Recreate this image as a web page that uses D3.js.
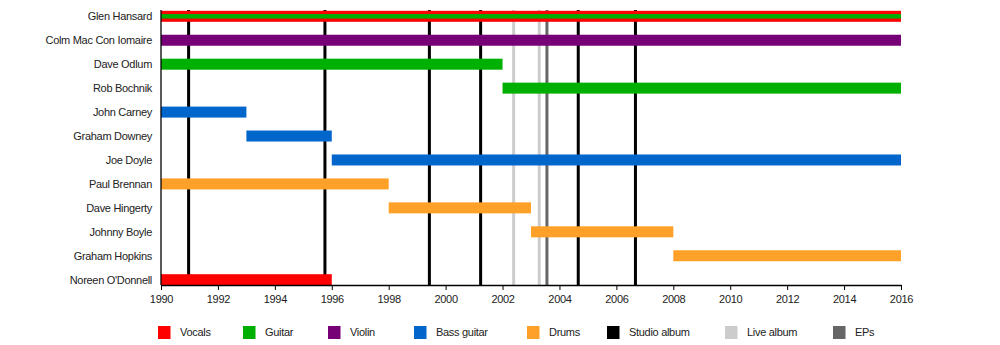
<!DOCTYPE html>
<html><head><meta charset="utf-8">
<script src="https://cdn.jsdelivr.net/npm/d3@7"></script>
<style>body{margin:0;background:#fff}svg{display:block;font-family:"Liberation Sans",Arial,sans-serif}svg text{letter-spacing:-0.3px}</style>
</head><body><svg id="c" width="1000" height="345"></svg>
<script>
const members = ["Glen Hansard","Colm Mac Con Iomaire","Dave Odlum","Rob Bochnik","John Carney","Graham Downey","Joe Doyle","Paul Brennan","Dave Hingerty","Johnny Boyle","Graham Hopkins","Noreen O'Donnell"];
const roles = ["Vocals","Guitar","Violin","Bass guitar","Drums"];
const roleColors = ["#ff0000","#00b000","#770077","#0066cc","#ffa028"];
// [member, role, start, end]
const spans = [
  ["Glen Hansard","Vocals",1990,2016],
  ["Colm Mac Con Iomaire","Violin",1990,2016],
  ["Dave Odlum","Guitar",1990,2002],
  ["Rob Bochnik","Guitar",2002,2016],
  ["John Carney","Bass guitar",1990,1993],
  ["Graham Downey","Bass guitar",1993,1996],
  ["Joe Doyle","Bass guitar",1996,2016],
  ["Paul Brennan","Drums",1990,1998],
  ["Dave Hingerty","Drums",1998,2003],
  ["Johnny Boyle","Drums",2003,2008],
  ["Graham Hopkins","Drums",2008,2016],
  ["Noreen O'Donnell","Vocals",1990,1996]
];
// secondary role stripe
const stripes = [["Glen Hansard","Guitar",1990,2016]];
const eventTypes = ["Studio album","Live album","EPs"];
const eventColors = ["#000000","#cccccc","#666666"];
const studioAlbums = [1990.97,1995.76,1999.43,2001.23,2004.66,2006.67];
const liveAlbums = [2002.39,2003.29];
const eps = [2003.56];
const tickYears = [1990,1992,1994,1996,1998,2000,2002,2004,2006,2008,2010,2012,2014,2016];

const svg = d3.select("#c");
const x = d3.scaleLinear().domain([1990,2016]).range([161,901]);
const y = d3.scalePoint().domain(members).range([16.3,279.7]);
const color = d3.scaleOrdinal().domain(roles.concat(eventTypes)).range(roleColors.concat(eventColors));
const plotTop = 10, plotBottom = 285, barH = 11, stripeH = 4.5;

const events = studioAlbums.map(d=>[d,"Studio album"]).concat(liveAlbums.map(d=>[d,"Live album"]), eps.map(d=>[d,"EPs"]));
svg.append("g").selectAll("line").data(events).join("line")
  .attr("x1",d=>x(d[0])).attr("x2",d=>x(d[0])).attr("y1",plotTop).attr("y2",plotBottom)
  .attr("stroke",d=>color(d[1])).attr("stroke-width",3);

svg.append("g").selectAll("rect").data(spans).join("rect")
  .attr("x",d=>x(d[2])).attr("width",d=>x(d[3])-x(d[2]))
  .attr("y",d=>y(d[0])-barH/2).attr("height",barH).attr("fill",d=>color(d[1]));
svg.append("g").selectAll("rect").data(stripes).join("rect")
  .attr("x",d=>x(d[2])).attr("width",d=>x(d[3])-x(d[2]))
  .attr("y",d=>y(d[0])-stripeH/2).attr("height",stripeH).attr("fill",d=>color(d[1]));

// axes
svg.append("line").attr("x1",x(1990)).attr("x2",x(1990)).attr("y1",plotTop).attr("y2",plotBottom).attr("stroke","#000").attr("stroke-width",1.3);
const ax = svg.append("g").attr("transform",`translate(0,${plotBottom})`)
  .call(d3.axisBottom(x).tickValues(tickYears).tickFormat(d3.format("d")).tickSize(5).tickSizeOuter(0));
ax.select(".domain").attr("stroke","#000").attr("stroke-width",1.3);
ax.selectAll(".tick line").attr("stroke","#000");
ax.selectAll("text").attr("font-size",11).attr("fill","#222").attr("dy","0.9em")
  .attr("font-family",'"Liberation Sans",Arial,sans-serif');

svg.append("g").selectAll("text").data(members).join("text")
  .attr("x",152).attr("y",d=>y(d)).attr("dy","0.35em").attr("text-anchor","end")
  .attr("font-size",11).attr("fill","#222").text(d=>d);

// legend
const legendItems = roles.concat(eventTypes);
const legendX = [158,243,328,414,527,607,725,833];
const lg = svg.append("g").selectAll("g").data(legendItems).join("g")
  .attr("transform",(d,i)=>`translate(${legendX[i]},326)`);
lg.append("rect").attr("width",12.5).attr("height",13).attr("fill",d=>color(d));
lg.append("text").attr("x",22).attr("y",6.5).attr("dy","0.35em").attr("font-size",11).attr("fill","#222").text(d=>d);
</script></body></html>
